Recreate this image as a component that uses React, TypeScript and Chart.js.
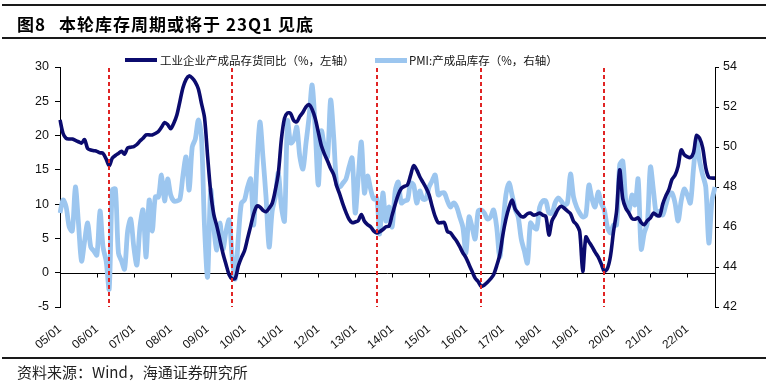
import React, { useEffect, useRef } from "react";
import { Chart, registerables } from "chart.js";

Chart.register(...registerables);

// Month categories 2005/01 .. 2022/10
const years = [5, 6, 7, 8, 9, 10, 11, 12, 13, 14, 15, 16, 17, 18, 19, 20, 21, 22];
const months: string[] = [];
years.forEach((y) => {
  for (let m = 1; m <= 12; m++) {
    if (y === 22 && m > 10) break;
    months.push(String(y).padStart(2, "0") + "/" + String(m).padStart(2, "0"));
  }
});

// 工业企业产成品存货同比（%，左轴）
const inventoryYoY: number[] = [
  22.3, 20.3, 19.6, 19.5, 19.5, 19.3, 19.1, 18.9, 19.4, 18.1, 17.9, 17.8,
  17.7, 17.5, 17.4, 16.6, 15.6, 16.7, 17.1, 17.4, 17.7, 17.3, 18.2, 18.3,
  18.4, 18.7, 19.2, 19.6, 20.1, 20.1, 20.1, 20.3, 20.6, 21.2, 21.9, 21.6,
  21.0, 21.8, 23.0, 25.0, 27.0, 28.2, 28.7, 28.4, 27.8, 26.8, 24.7, 22.6,
  17.0, 11.8, 8.5, 6.8, 4.8, 2.8, 1.2, -0.3, -0.9, -0.8, 1.0, 2.2,
  3.2, 5.0, 6.8, 8.6, 9.7, 9.6, 9.1, 8.9, 9.4, 10.1, 12.0, 14.5,
  19.5, 22.5, 23.3, 23.2, 22.2, 22.0, 22.8, 23.4, 24.2, 24.5, 23.8, 22.5,
  20.5, 18.5, 17.3, 16.3, 15.2, 14.3, 12.6, 11.4, 10.0, 8.8, 7.8, 7.3,
  7.4, 7.6, 8.5, 7.5, 7.0, 6.7, 6.1, 5.8, 6.0, 6.3, 6.7, 6.8,
  8.4, 10.0, 11.4, 12.3, 12.6, 12.8, 14.2, 15.6, 15.0, 14.0, 13.2, 12.4,
  11.4, 9.7, 8.2, 7.3, 7.3, 7.3, 6.0, 5.8, 5.2, 4.6, 3.8, 2.9,
  2.2, 1.2, 0.2, -0.8, -1.3, -2.0, -1.8, -1.4, -0.9, -0.3, 1.0, 2.6,
  5.5, 7.8, 9.5, 10.6, 9.3, 8.7, 8.2, 8.2, 8.6, 8.7, 8.4, 8.5,
  8.7, 8.4, 8.2, 5.5, 7.6, 8.4, 9.3, 9.7, 9.4, 9.0, 8.6, 7.5,
  7.0, 6.0, 0.2, 5.2, 4.5, 3.8, 3.0, 2.3, 1.3, 0.2, 0.6, 2.4,
  6.0, 9.0, 15.0, 10.8, 9.4, 8.7, 7.9, 7.8, 8.0, 7.3, 7.0, 7.6,
  8.0, 8.7, 8.4, 8.3, 10.0, 11.2, 12.1, 13.6, 14.2, 15.5, 17.9, 17.2,
  16.9, 16.8, 17.5, 20.0, 19.6, 18.2, 15.3, 13.9, 13.8, 13.8,
];

// PMI:产成品库存（%，右轴）
const pmiInventory: number[] = [
  46.7, 47.35, 47.0, 46.0, 45.8, 48.0, 46.2, 44.3, 45.3, 46.2, 45.0, 44.8,
  44.6, 46.8, 45.0, 44.3, 42.9, 47.85, 47.9, 44.7, 44.3, 43.9, 45.8, 46.4,
  45.0, 44.1, 46.0, 46.85, 44.5, 47.35, 45.8, 47.5, 47.5, 48.6, 47.3, 48.4,
  47.6, 47.3, 47.3, 47.4, 48.6, 49.5, 47.85, 50.0, 50.4, 51.35, 50.5, 46.0,
  43.5, 47.85, 46.0, 44.85, 46.2, 44.9, 45.8, 46.35, 44.5, 43.4, 45.5, 47.2,
  47.35, 48.0, 48.4, 46.1, 49.0, 51.25, 49.5, 47.5, 45.0, 46.8, 47.5, 48.7,
  47.0, 46.3, 51.3, 50.2, 50.35, 51.0, 49.5, 48.9, 50.2, 51.5, 53.1, 50.9,
  48.1, 50.8, 50.0, 49.5, 52.35, 50.5, 48.1, 48.0, 48.2, 48.4, 49.0, 49.45,
  46.7, 48.5, 50.25, 47.7, 48.55, 47.9, 47.4, 47.45, 45.65, 47.7, 46.3, 47.0,
  46.0, 47.8, 48.25, 47.2, 47.3, 47.35, 48.2, 48.1, 47.2, 47.8, 47.4, 47.4,
  48.0, 48.3, 48.6, 47.6, 47.7, 47.7, 47.3, 47.0, 47.2, 47.0, 46.5, 46.0,
  44.7, 46.5, 46.0, 45.4, 46.8, 46.85, 46.7, 46.4, 46.5, 46.85, 46.0, 44.5,
  46.0, 47.6, 48.2, 47.6, 46.9, 46.5, 45.4, 44.8, 44.2, 46.2, 46.0, 45.9,
  47.0, 47.3, 47.3, 46.7, 46.7, 47.2, 47.45, 47.3, 47.1, 47.2, 48.65, 47.5,
  47.0, 46.7, 46.5, 46.6, 48.1, 47.4, 47.0, 47.75, 47.2, 46.85, 46.0, 45.7,
  46.1, 46.1, 49.1, 49.3, 47.3, 46.8, 47.6, 47.1, 48.4, 44.9, 45.7, 46.2,
  49.0, 47.8, 46.6, 46.8, 46.6, 47.1, 47.6, 47.7, 47.2, 46.3, 47.3, 47.9,
  47.6, 47.2, 48.9, 50.3, 49.3, 48.6, 48.0, 45.2, 47.3, 48.0,
];

// Inventory-cycle troughs marked with red dashed lines
const troughMonths = ["06/05", "09/09", "13/08", "16/06", "19/10"];

const leftTicks = { min: -5, max: 30, step: 5 };
const rightTicks = { min: 42, max: 54, step: 2 };

const DARK = "#0b0b6e";
const LIGHT = "#9cc6ef";
const RED = "#e02424";
const CJK = '"Noto Sans CJK SC", "Noto Sans", sans-serif';
const LATIN = '"Liberation Sans", Arial, sans-serif';

const overlayPlugin = {
  id: "overlay",
  beforeDatasetsDraw(chart: any) {
    const { ctx, chartArea, scales } = chart;
    const xs = scales.x;
    const y0 = Math.round(scales.y.getPixelForValue(0)) + 0.5;
    ctx.save();
    ctx.strokeStyle = "#000";
    ctx.lineWidth = 1;
    ctx.beginPath();
    ctx.moveTo(chartArea.left, y0);
    ctx.lineTo(chartArea.right, y0);
    months.forEach((m, i) => {
      if (m.endsWith("/01")) {
        const px = Math.round(xs.getPixelForValue(i)) + 0.5;
        ctx.moveTo(px, y0);
        ctx.lineTo(px, y0 + 4);
      }
    });
    ctx.stroke();
    ctx.restore();
  },
  afterDatasetsDraw(chart: any) {
    const { ctx, chartArea, scales } = chart;
    const xs = scales.x;
    ctx.save();
    ctx.strokeStyle = RED;
    ctx.lineWidth = 2;
    ctx.setLineDash([4, 3]);
    troughMonths.forEach((m) => {
      const i = months.indexOf(m);
      if (i < 0) return;
      const px = Math.round(xs.getPixelForValue(i));
      ctx.beginPath();
      ctx.moveTo(px, chartArea.top + 1);
      ctx.lineTo(px, chartArea.bottom);
      ctx.stroke();
    });
    ctx.restore();
  },
};

export default function App() {
  const ref = useRef<HTMLCanvasElement | null>(null);

  useEffect(() => {
    if (!ref.current) return;
    const chart = new Chart(ref.current, {
      type: "line",
      data: {
        labels: months,
        datasets: [
          {
            label: "工业企业产成品存货同比（%，左轴）",
            data: inventoryYoY,
            borderColor: DARK,
            borderWidth: 3.6,
            pointRadius: 0,
            tension: 0.3,
            yAxisID: "y",
          },
          {
            label: "PMI:产成品库存（%，右轴）",
            data: pmiInventory,
            borderColor: LIGHT,
            borderWidth: 4.8,
            pointRadius: 0,
            tension: 0.3,
            yAxisID: "y1",
          },
        ],
      },
      options: {
        animation: false,
        responsive: false,
        devicePixelRatio: 1,
        layout: { padding: { top: 67, bottom: 30, left: 0, right: 0 } },
        plugins: { legend: { display: false }, tooltip: { enabled: false }, title: { display: false } },
        scales: {
          x: {
            type: "category",
            offset: false,
            grid: { display: false, drawTicks: false },
            border: { display: false },
            ticks: {
              autoSkip: false,
              maxRotation: 40,
              minRotation: 40,
              padding: 15,
              color: "#111",
              font: { family: LATIN, size: 12 },
              callback: (_v: any, i: number) => (months[i].endsWith("/01") ? months[i] : ""),
            },
            afterFit: (s: any) => {
              s.height = 45;
            },
          },
          y: {
            position: "left",
            min: leftTicks.min,
            max: leftTicks.max,
            ticks: { stepSize: leftTicks.step, padding: 6, color: "#111", font: { family: LATIN, size: 12.5 } },
            grid: { drawOnChartArea: false, drawTicks: true, tickLength: 5, color: "#000" },
            border: { display: true, color: "#000", width: 1 },
            afterFit: (s: any) => {
              s.width = 60;
            },
          },
          y1: {
            position: "right",
            min: rightTicks.min,
            max: rightTicks.max,
            ticks: { stepSize: rightTicks.step, padding: 4, color: "#111", font: { family: LATIN, size: 12.5 } },
            grid: { drawOnChartArea: false, drawTicks: true, tickLength: 4, color: "#000" },
            border: { display: true, color: "#000", width: 1 },
            afterFit: (s: any) => {
              s.width = 53;
            },
          },
        },
      },
      plugins: [overlayPlugin],
    } as any);
    return () => chart.destroy();
  }, []);

  const rule = (top: number) => (
    <div style={{ position: "absolute", left: 2, top, width: 764, height: 2, background: "#1a1a1a" }} />
  );

  return (
    <div style={{ position: "fixed", left: 0, top: 0, width: 768, height: 382, background: "#fff", overflow: "hidden" }}>
      <canvas ref={ref} width={768} height={382} style={{ position: "absolute", left: 0, top: 0 }} />
      {rule(4)}
      {rule(37)}
      {rule(357)}
      <div
        style={{
          position: "absolute",
          left: 17,
          top: 14,
          fontFamily: CJK,
          fontWeight: 700,
          fontSize: 17,
          lineHeight: "20px",
          letterSpacing: 1,
          color: "#000",
          whiteSpace: "nowrap",
        }}
      >
        <span>图8</span>
        <span style={{ marginLeft: 13 }}>本轮库存周期或将于 23Q1 见底</span>
      </div>
      <div style={{ position: "absolute", left: 125, top: 58, width: 32, height: 4, background: DARK }} />
      <div
        style={{
          position: "absolute",
          left: 160,
          top: 52,
          fontFamily: CJK,
          fontSize: 11.5,
          lineHeight: "16px",
          color: "#111",
          whiteSpace: "nowrap",
        }}
      >
        工业企业产成品存货同比（%，左轴）
      </div>
      <div style={{ position: "absolute", left: 375, top: 57.5, width: 32, height: 5, background: LIGHT }} />
      <div
        style={{
          position: "absolute",
          left: 409,
          top: 52,
          fontFamily: CJK,
          fontSize: 11.5,
          lineHeight: "16px",
          color: "#111",
          whiteSpace: "nowrap",
        }}
      >
        PMI:产成品库存（%，右轴）
      </div>
      <div
        style={{
          position: "absolute",
          left: 17,
          top: 363,
          fontFamily: CJK,
          fontSize: 15,
          lineHeight: "18px",
          color: "#222",
          whiteSpace: "nowrap",
        }}
      >
        资料来源：Wind，海通证券研究所
      </div>
    </div>
  );
}
